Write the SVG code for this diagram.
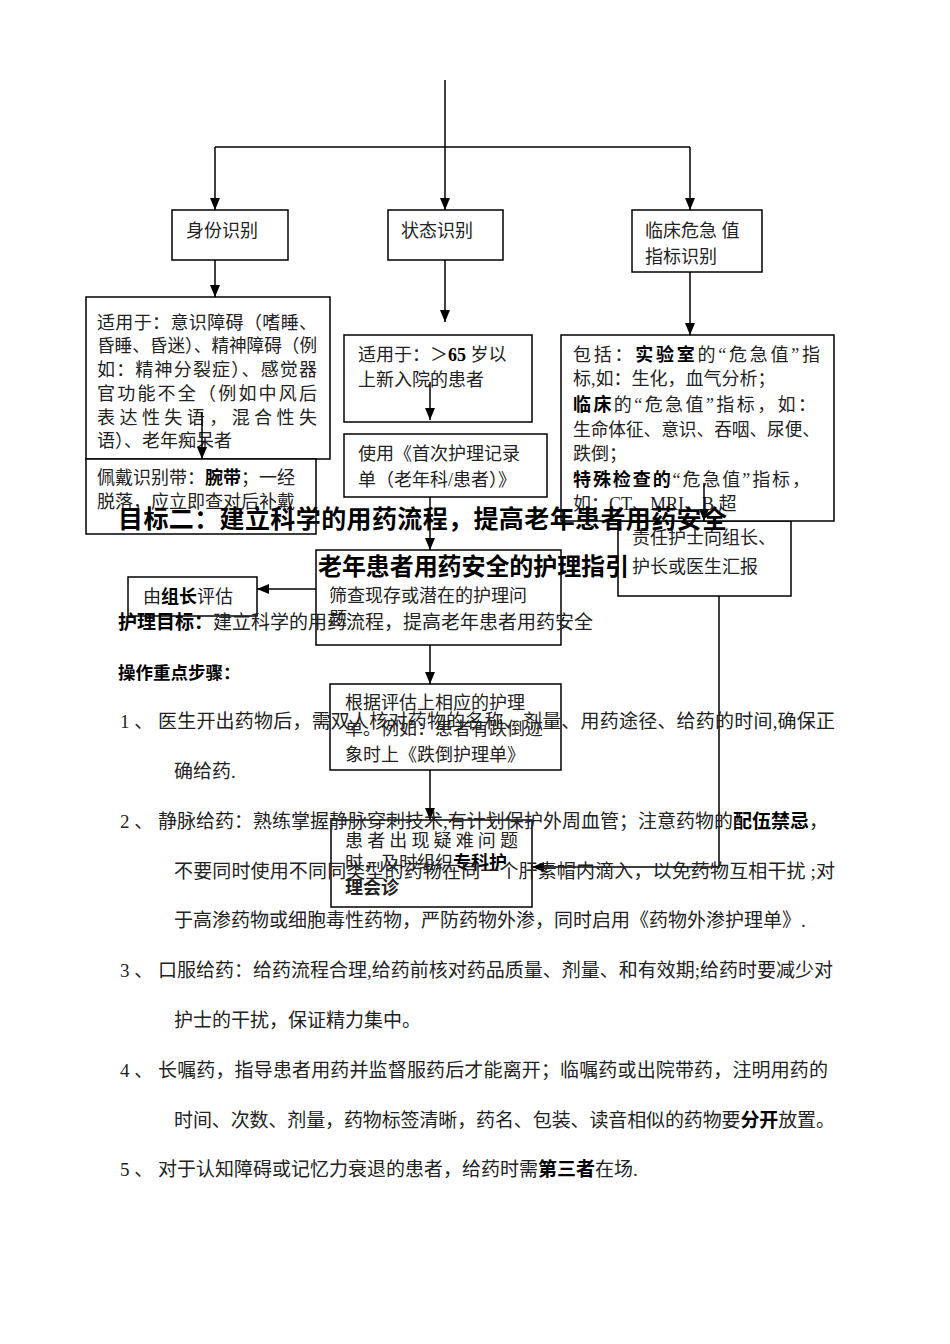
<svg xmlns="http://www.w3.org/2000/svg" width="950" height="1344" viewBox="0 0 950 1344">
<style>
.bx{fill:#fff;stroke:#000;stroke-width:1.5}
.t{font-family:"Liberation Serif","Noto Sans CJK SC",serif;font-size:18px;fill:#222}
.b{font-family:"Liberation Sans","Noto Sans CJK SC",sans-serif;font-weight:bold;fill:#000}
.body{font-family:"Liberation Serif","Noto Sans CJK SC",serif;font-size:19px;fill:#222}
.ln{fill:none;stroke:#000;stroke-width:1.5}
</style>
<defs>
<marker id="ah" markerUnits="userSpaceOnUse" markerWidth="12" markerHeight="10" refX="12" refY="5" orient="auto">
<path d="M0,0 L12,5 L0,10 z" fill="#000"/>
</marker>
</defs>
<rect width="950" height="1344" fill="#fff"/>

<g id="n-shenfen"><rect class="bx" x="172" y="210" width="116" height="50"/><text class="t" x="186" y="237">身份识别</text></g>
<g id="n-zhuangtai"><rect class="bx" x="388" y="210" width="115" height="50"/><text class="t" x="401" y="237">状态识别</text></g>
<g id="n-weiji"><rect class="bx" x="632" y="210" width="130" height="62"/><text class="t" x="645" y="237">临床危急 值</text><text class="t" x="645" y="263">指标识别</text></g>

<g id="n-shiyong1"><rect class="bx" x="86" y="297" width="244" height="162"/>
<text class="t" x="97" y="329" textLength="220" lengthAdjust="spacing">适用于：意识障碍（嗜睡、</text>
<text class="t" x="97" y="352" textLength="220" lengthAdjust="spacingAndGlyphs">昏睡、昏迷）、精神障碍（例</text>
<text class="t" x="97" y="376" textLength="220" lengthAdjust="spacing">如：精神分裂症）、感觉器</text>
<text class="t" x="97" y="400" textLength="220" lengthAdjust="spacing">官功能不全（例如中风后</text>
<text class="t" x="97" y="424" textLength="220" lengthAdjust="spacing">表达性失语，混合性失</text>
<text class="t" x="97" y="447">语）、老年痴呆者</text></g>
<g id="n-peidai"><rect class="bx" x="86" y="459" width="230" height="75"/>
<text class="t" x="97" y="484">佩戴识别带：<tspan font-weight="bold" fill="#000">腕带</tspan>；一经</text>
<text class="t" x="97" y="508">脱落，应立即查对后补戴</text></g>

<g id="n-shiyong2"><rect class="bx" x="344" y="335" width="188" height="87"/>
<text class="t" x="358" y="361">适用于：＞<tspan font-weight="bold" fill="#000">65</tspan> 岁以</text>
<text class="t" x="358" y="386">上新入院的患者</text></g>
<g id="n-shouci"><rect class="bx" x="344" y="434" width="203" height="63"/>
<text class="t" x="358" y="460">使用《首次护理记录</text>
<text class="t" x="358" y="486">单（老年科/患者）》</text></g>

<g id="n-zeren"><rect class="bx" x="618" y="521" width="173" height="75"/>
<text class="t" x="632" y="544">责任护士向组长、</text>
<text class="t" x="632" y="573">护长或医生汇报</text></g>
<g id="n-baokuo"><rect class="bx" x="561" y="335" width="273" height="186"/>
<text class="t" x="573" y="361" textLength="247" lengthAdjust="spacing">包括：<tspan font-weight="bold" fill="#000">实验室</tspan>的“危急值”指</text>
<text class="t" x="573" y="385">标,如：生化，血气分析；</text>
<text class="t" x="573" y="411" textLength="243" lengthAdjust="spacing"><tspan font-weight="bold" fill="#000">临床</tspan>的“危急值”指标，如：</text>
<text class="t" x="573" y="436" textLength="247" lengthAdjust="spacingAndGlyphs">生命体征、意识、吞咽、尿便、</text>
<text class="t" x="573" y="460">跌倒；</text>
<text class="t" x="573" y="486" textLength="237" lengthAdjust="spacing"><tspan font-weight="bold" fill="#000">特殊检查的</tspan>“危急值”指标，</text>
<text class="t" x="573" y="510">如：CT、MRI、B 超</text></g>

<g id="n-zuzhang"><rect class="bx" x="128" y="577" width="129" height="39"/>
<text class="t" x="143" y="603">由<tspan font-weight="bold" fill="#000">组长</tspan>评估</text></g>
<g id="n-shaicha"><rect class="bx" x="316" y="550" width="245" height="95"/>
<text class="t" x="329" y="602">筛查现存或潜在的护理问</text>
<text class="t" x="329" y="625">题</text></g>
<g id="n-genju"><rect class="bx" x="330" y="684" width="231" height="86"/>
<text class="t" x="345" y="709">根据评估上相应的护理</text>
<text class="t" x="345" y="735">单。例如：患者有跌倒迹</text>
<text class="t" x="345" y="761">象时上《跌倒护理单》</text></g>
<g id="n-huizhen"><rect class="bx" x="331" y="820" width="201" height="87"/>
<text class="t" x="345" y="847" textLength="173" lengthAdjust="spacing">患者出现疑难问题</text>
<text class="t" x="345" y="869">时，及时组织<tspan font-weight="bold" fill="#000">专科护</tspan></text>
<text class="t" x="345" y="894" font-weight="bold" fill="#000">理会诊</text></g>

<g id="connectors">
<path class="ln" d="M445,80 V147"/>
<path class="ln" d="M215,147 H690"/>
<path class="ln" d="M215,147 V210" marker-end="url(#ah)"/>
<path class="ln" d="M445,147 V210" marker-end="url(#ah)"/>
<path class="ln" d="M690,147 V210" marker-end="url(#ah)"/>
<path class="ln" d="M215,260 V297" marker-end="url(#ah)"/>
<path class="ln" d="M202,412 V459" marker-end="url(#ah)"/>
<path class="ln" d="M445,260 V322" marker-end="url(#ah)"/>
<path class="ln" d="M430,382 V420" marker-end="url(#ah)"/>
<path class="ln" d="M430,497 V550" marker-end="url(#ah)"/>
<path class="ln" d="M690,272 V335" marker-end="url(#ah)"/>
<path class="ln" d="M704,483 V521" marker-end="url(#ah)"/>
<path class="ln" d="M316,589 H257" marker-end="url(#ah)"/>
<path class="ln" d="M430,645 V684" marker-end="url(#ah)"/>
<path class="ln" d="M430,770 V820" marker-end="url(#ah)"/>
<path class="ln" d="M719,596 V867 H532" marker-end="url(#ah)"/>
</g>

<g id="page-text">
<text class="b" x="118" y="528" font-size="25" textLength="609" lengthAdjust="spacing">目标二：建立科学的用药流程，提高老年患者用药安全</text>
<text class="b" x="318" y="575" font-size="24" textLength="311" lengthAdjust="spacing">老年患者用药安全的护理指引</text>
<text class="body" x="118" y="629"><tspan class="b">护理目标：</tspan>建立科学的用药流程，提高老年患者用药安全</text>
<text class="b" x="118" y="679" font-size="17.5">操作重点步骤：</text>

<text class="body" x="120" y="728">1 、</text>
<text class="body" x="158" y="728" textLength="677" lengthAdjust="spacing">医生开出药物后，需双人核对药物的名称、剂量、用药途径、给药的时间,确保正</text>
<text class="body" x="174" y="778">确给药.</text>

<text class="body" x="120" y="828">2 、</text>
<text class="body" x="158" y="828" textLength="670" lengthAdjust="spacing">静脉给药：熟练掌握静脉穿刺技术,有计划保护外周血管；注意药物的<tspan class="b">配伍禁忌</tspan>，</text>
<text class="body" x="174" y="878" textLength="661" lengthAdjust="spacing">不要同时使用不同同类型的药物在同一个肝素帽内滴入，以免药物互相干扰 ;对</text>
<text class="body" x="174" y="927">于高渗药物或细胞毒性药物，严防药物外渗，同时启用《药物外渗护理单》.</text>

<text class="body" x="120" y="977">3 、</text>
<text class="body" x="158" y="977" textLength="675" lengthAdjust="spacing">口服给药：给药流程合理,给药前核对药品质量、剂量、和有效期;给药时要减少对</text>
<text class="body" x="174" y="1027">护士的干扰，保证精力集中。</text>

<text class="body" x="120" y="1077">4 、</text>
<text class="body" x="158" y="1077" textLength="670" lengthAdjust="spacing">长嘱药，指导患者用药并监督服药后才能离开；临嘱药或出院带药，注明用药的</text>
<text class="body" x="174" y="1127" textLength="661" lengthAdjust="spacing">时间、次数、剂量，药物标签清晰，药名、包装、读音相似的药物要<tspan class="b">分开</tspan>放置。</text>

<text class="body" x="120" y="1176">5 、</text>
<text class="body" x="158" y="1176">对于认知障碍或记忆力衰退的患者，给药时需<tspan class="b">第三者</tspan>在场.</text>
</g>
</svg>
